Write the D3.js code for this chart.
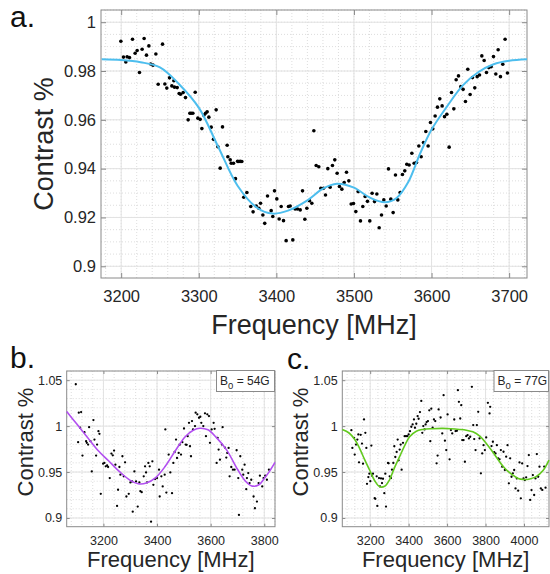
<!DOCTYPE html>
<html>
<head>
<meta charset="utf-8">
<script src="https://cdn.jsdelivr.net/npm/d3@7"></script>
<style>
body { margin: 0; background: #fff; }
svg { display: block; font-family: "Liberation Sans", Arial, Helvetica, sans-serif; }
</style>
</head>
<body>
<div id="chart"></div>
<script>
// ---- panel a : measured points [freq MHz, contrast] ----
var pointsA = [
 [3199.6,0.9922],[3203,0.9857],[3206,0.9837],[3207.7,0.9858],[3210.7,0.9855],[3214.6,0.9930],[3218,0.9873],[3220.6,0.9884],
 [3223.6,0.9794],[3227,0.9889],[3229.6,0.9933],[3232.6,0.9865],[3235.7,0.9903],[3238,0.9829],[3241,0.9824],[3244.7,0.9870],
 [3247.7,0.9746],[3253.3,0.9910],[3256.3,0.9747],[3258.8,0.9730],[3262.3,0.9772],[3265.3,0.9739],[3267.9,0.9760],[3268.7,0.9734],
 [3272.2,0.9732],[3274.7,0.9708],[3276.5,0.9705],[3279.9,0.9712],[3282.9,0.9691],[3286.3,0.9600],[3288.5,0.9627],[3290.2,0.9627],
 [3292.4,0.9627],[3295.4,0.9713],[3298.8,0.9607],[3301.8,0.9602],[3304,0.9564],[3306.5,0.9619],[3308.7,0.9627],[3310.8,0.9633],
 [3313,0.9611],[3316,0.9570],[3319,0.9520],[3322.4,0.9641],[3324.6,0.9490],[3327.6,0.9402],[3330.6,0.9571],[3336.6,0.9496],
 [3337.5,0.9449],[3340.5,0.9436],[3341.8,0.9422],[3344.8,0.9422],[3347.3,0.9359],[3350,0.9430],[3351.6,0.9429],[3353.4,0.9430],
 [3355.5,0.9429],[3358,0.9283],[3362,0.9302],[3367,0.9245],[3370,0.9223],[3374,0.9247],[3377.4,0.9238],[3379.6,0.9258],
 [3382.6,0.9210],[3385,0.9176],[3388.6,0.9288],
 [3393.3,0.9228],[3395.4,0.9204],[3397.6,0.9309],[3400.6,0.9276],[3403.6,0.9194],[3406.2,0.9245],[3409.2,0.9187],[3412.6,0.9105],
 [3415.6,0.9245],[3417.8,0.9247],[3421.2,0.9108],[3424.2,0.9235],[3427.2,0.9235],[3430.7,0.9231],[3433.7,0.9309],[3436.7,0.9193],
 [3439.3,0.9238],[3442.7,0.9269],[3445.7,0.9258],[3448.3,0.9555],[3451.3,0.9413],[3454.7,0.9408],[3457.3,0.9320],[3460.7,0.9320],
 [3463.3,0.9292],[3466.3,0.9400],[3469.3,0.9324],[3472.3,0.9413],[3475.3,0.9436],[3478.3,0.9381],[3481.3,0.9327],[3484.4,0.9316],
 [3487.4,0.9343],[3490.4,0.9385],[3493.4,0.9350],[3496.4,0.9255],[3499.4,0.9257],[3502.4,0.9224],[3505.4,0.9306],[3508.4,0.9186],
 [3511.4,0.9245],[3514.4,0.9286],[3517.4,0.9266],[3520.4,0.9186],[3523.4,0.9299],[3526.5,0.9265],[3529.5,0.9296],[3532.5,0.9158],
 [3535.5,0.9210],[3538.5,0.9272],[3541.5,0.9247],[3544.5,0.9399],[3547.5,0.9275],[3550.5,0.9220],[3553.5,0.9374],[3556.5,0.9272],
 [3559.5,0.9302],[3562.5,0.9376],[3565.5,0.9391],[3568.1,0.9418],[3571.1,0.9415],[3574.6,0.9463],[3577.6,0.9422],[3580.6,0.9425],
 [3583.6,0.9493],[3586.6,0.9449],[3589.6,0.9507],[3592.6,0.9552],[3595.6,0.9493],[3598.6,0.9589],[3601.6,0.9563],[3604.6,0.9616],
 [3607.6,0.9652],[3610.6,0.9686],[3613.6,0.9657],[3616.7,0.9613],[3619.7,0.9623],[3622.7,0.9488],[3625.7,0.9712],[3628.7,0.9645],
 [3631.7,0.9764],[3634.7,0.9780],[3637.7,0.9736],[3640.7,0.9725],[3643.7,0.9675],[3646.7,0.9807],[3649.7,0.9704],[3652.7,0.9773],
 [3655.7,0.9731],[3658.8,0.9777],[3661.8,0.9784],[3664.8,0.9862],[3667.8,0.9843],[3670.8,0.9794],[3673.8,0.9814],[3676.8,0.9818],
 [3679.8,0.9859],[3682.8,0.9788],[3685.8,0.9887],[3688.8,0.9777],[3691.8,0.9828],[3694.8,0.9930],[3697.8,0.9792]
];
// fitted curve
var fitA = [
 [3175,0.9848],[3200,0.9845],[3225,0.9836],[3250,0.9815],[3275,0.9745],[3300,0.9650],[3325,0.9490],[3350,0.9330],
 [3375,0.9240],[3395,0.9216],[3415,0.9228],[3440,0.9270],[3460,0.9318],[3478,0.9338],[3500,0.9322],[3520,0.9282],
 [3540,0.9262],[3555,0.9280],[3570,0.9345],[3585,0.9460],[3600,0.9560],[3620,0.9655],[3640,0.9740],[3660,0.9795],
 [3680,0.9828],[3700,0.9842],[3723,0.9848]
];

// ---- panel b (B0 = 54G) ----
var pointsB = [
 [3096.9,1.0456],[3105.6,0.9825],[3108.1,1.0146],[3116.8,1.0153],[3113.1,0.9982],[3121.8,0.9679],[3129.2,0.9934],[3135.4,0.9836],
 [3137.9,0.9818],[3142.9,0.9799],[3146.6,0.9989],[3151.6,0.9836],[3156.5,0.9507],[3162.7,1.0066],[3166.5,0.9854],[3172.7,0.9679],
 [3176.4,0.9799],[3181.4,0.9945],[3185.1,0.9916],[3190.1,0.9263],[3198.8,0.9591],[3203.7,0.9599],[3208.7,0.9562],[3213.7,0.9573],
 [3217.4,0.9555],[3223.6,0.9434],[3229.8,0.9701],[3234.8,0.9682],[3239.7,0.9734],[3244.7,0.9580],[3250.9,0.9131],[3254.6,0.9307],
 [3259.6,0.9555],[3263.3,0.9471],[3270.8,0.9672],[3275.8,0.9453],[3280.7,0.9606],[3285.7,0.9234],[3294.4,0.9263],[3300.6,0.9387],
 [3306.8,0.9398],[3309.3,0.9069],[3315.5,0.9507],[3321.7,0.9398],[3327.9,0.9124],[3334.1,0.9387],[3337.9,0.9292],[3342.8,0.9281],
 [3350.3,0.9453],[3355.3,0.9562],[3359,0.9496],[3362.7,0.9387],[3367.7,0.9599],[3372.6,0.9562],[3377.6,0.8960],[3382.6,0.9617],
 [3386.3,0.9361],[3392.5,0.9423],[3400,0.9434],[3407.4,0.9526],[3409.9,0.9234],[3416.1,0.9453],[3421.1,0.9343],[3428.5,0.9471],
 [3431,0.9964],[3434.7,0.9277],[3443.4,0.9690],[3449.6,0.9496],[3455.9,0.9270],[3460.8,0.9599],[3465.8,0.9719],[3470.8,0.9854],
 [3474.5,0.9653],[3480.7,0.9708],[3484.4,0.9796],[3489.4,0.9690],[3494.4,0.9825],[3500.6,0.9974],[3506.8,0.9799],[3510.5,0.9796],
 [3514.2,0.9891],[3519.2,1.0036],[3522.9,0.9781],[3526.6,0.9672],[3530.4,1.0055],[3534.1,0.9964],[3541.6,1.0],[3544,1.0146],
 [3550.2,1.0128],[3556.5,1.0091],[3561.4,1.0102],[3565.1,1.0036],[3572.6,1.0],[3578.8,1.0139],[3582.5,0.9891],[3587.5,1.0128],
 [3593.7,1.0109],[3597.4,0.9818],[3603.7,0.9964],[3611.1,1.0036],[3614.8,0.9971],[3622.3,0.9599],[3626,0.9872],[3629.7,0.9745],
 [3634.7,0.9635],[3642.2,0.9799],[3644.6,0.9989],[3653.3,0.9766],[3658.3,0.9657],[3662,0.9708],[3667,0.9763],[3670.7,0.9453],
 [3676.9,0.9555],[3683.1,0.9526],[3689.3,0.9526],[3696.8,0.9737],[3703,0.9434],[3705.5,0.9033],[3710.5,0.9672],[3717.9,0.9526],
 [3721.6,0.9471],[3726.6,0.9580],[3732.8,0.9314],[3735.3,0.9434],[3740.3,0.9489],[3745.2,0.9380],[3751.4,0.9416],[3760.1,0.9234],
 [3765.1,0.9106],[3772.6,0.9179],[3778.8,0.9380],[3783.7,0.9460],[3792.4,0.9343],[3797.4,0.9434],[3803.6,0.9460],[3809.8,0.9416],
 [3817.3,0.9526]
];
var fitB = [
 [3063,1.0158],[3100,1.0025],[3140,0.9880],[3180,0.9735],[3220,0.9620],[3260,0.9505],[3300,0.9410],[3330,0.9372],
 [3360,0.9380],[3395,0.9440],[3430,0.9560],[3470,0.9740],[3505,0.9884],[3535,0.9955],[3560,0.9977],[3590,0.9960],
 [3620,0.9880],[3660,0.9739],[3700,0.9530],[3730,0.9400],[3755,0.9347],[3780,0.9362],[3800,0.9430],[3820,0.9510],[3840,0.9605]
];

// ---- panel c (B0 = 77G) ----
var pointsC = [
 [3102.2,0.9956],[3107.4,0.9763],[3116,0.9872],[3119.5,0.9690],[3126.4,0.9799],[3133.3,0.9854],[3138.5,0.9909],[3142,0.9606],
 [3150.6,0.9905],[3157.5,0.9810],[3162.8,0.9591],[3168,1.0073],[3174.9,0.9927],[3180.1,0.9763],[3183.5,0.9372],[3190.5,0.9445],
 [3195.7,0.9482],[3200.9,0.9401],[3206.1,0.9788],[3209.5,0.9460],[3214.7,0.9482],[3223.4,0.9215],[3226.8,0.9208],[3233.8,0.9453],
 [3237.2,0.9131],[3245.9,0.9434],[3251.1,0.9343],[3256.3,0.9431],[3261.5,0.9380],[3266.7,0.9427],[3273.6,0.9270],[3278.8,0.9482],
 [3282.3,0.9124],[3292.6,0.9599],[3296.1,0.9595],[3301.3,0.9453],[3308.2,0.9434],[3313.4,0.9526],[3320.4,0.9599],[3325.5,0.9781],
 [3330.7,0.9664],[3337.7,0.9719],[3342.9,0.9854],[3348.1,0.9628],[3353.3,0.9745],[3358.5,0.9799],[3363.6,0.9526],[3370.6,0.9818],
 [3379.2,0.9891],[3386.2,0.9891],[3393.1,0.9891],[3400,0.9909],[3406.9,0.9945],[3413.9,0.9993],[3420.8,1.0018],[3427.7,1.0073],
 [3432.9,0.9982],[3439.8,1.0026],[3446.8,1.0109],[3452,1.0080],[3458.9,1.0153],[3465.8,1.0274],[3471,0.9927],[3476.2,1.0],
 [3483.1,0.9964],[3488.3,1.0018],[3493.5,1.0044],[3500.4,1.0055],[3507.4,1.0172],[3512.6,0.9836],[3517.8,1.0190],[3524.7,0.9982],
 [3531.6,1.0073],[3538.5,1.0055],[3545.5,0.9595],[3550.7,0.9679],[3555.9,1.0182],
 [3566.2,1.0094],[3581.8,1.0337],[3574.9,0.9920],[3588.7,0.9841],[3595.6,0.9739],[3602.6,1.0127],[3613,0.9638],[3619.9,0.9957],
 [3626.8,0.9920],[3637.2,1.0072],[3644.1,0.9946],[3651,0.9949],[3656.2,1.0391],[3661.4,1.0264],[3668.4,1.0083],[3673.6,1.0228],
 [3678.8,0.9848],[3685.7,0.9848],[3692.6,0.9612],[3699.5,0.9891],[3706.5,0.9902],[3713.4,0.9866],[3720.3,0.9884],[3729,1.0428],
 [3735.9,1.0011],[3741.1,0.9859],[3748,0.9739],[3754.9,1.0011],[3761.9,1.0156],[3768.8,0.9866],[3775.7,0.9486],[3782.7,0.9703],
 [3789.6,0.9793],[3796.5,0.9739],[3803.4,0.9877],[3812.1,1.0254],[3820.8,1.0138],[3824.2,1.0210],[3831.1,0.9783],[3838.1,0.9830],
 [3845,0.9717],[3851.9,0.9703],[3858.9,0.9793],[3865.8,0.9649],[3872.7,0.9638],[3879.6,0.9739],[3886.6,0.9558],[3893.5,0.9721],
 [3900.4,0.9522],[3907.3,0.9667],[3914.3,0.9793],[3921.2,0.9377],[3928.1,0.9649],[3935,0.9449],[3942,0.9486],[3948.9,0.9522],
 [3955.8,0.9322],[3962.8,0.9431],[3969.7,0.9297],[3976.6,0.9605],[3983.5,0.9214],[3990.5,0.9594],[3997.4,0.9431],[4004.3,0.9413],
 [4011.2,0.9442],[4018.2,0.9565],[4025.1,0.9685],[4032,0.9196],[4039,0.9304],[4045.9,0.9467],[4052.8,0.9250],[4059.7,0.9431],
 [4066.7,0.9696],[4073.6,0.9449],[4080.5,0.9558],[4087.5,0.9322],[4095,0.9305],[4105,0.9560],[4112,0.9330]
];
var fitC = [
 [3055,0.9962],[3090,0.9925],[3120,0.9855],[3145,0.9757],[3170,0.9640],[3197,0.9522],[3225,0.9400],[3250,0.9340],
 [3275,0.9345],[3300,0.9413],[3325,0.9540],[3353,0.9667],[3380,0.9790],[3405,0.9884],[3440,0.9945],[3475,0.9964],
 [3520,0.9972],[3578,0.9975],[3620,0.9972],[3665,0.9964],[3700,0.9955],[3734,0.9938],[3770,0.9890],[3804,0.9812],
 [3840,0.9710],[3873,0.9612],[3905,0.9530],[3942,0.9467],[3970,0.9430],[3994,0.9420],[4030,0.9425],[4063,0.9450],
 [4100,0.9520],[4130,0.9630]
];

// tick labels
var xTicksA = [3200, 3300, 3400, 3500, 3600, 3700];
var yTicksA = [0.9, 0.92, 0.94, 0.96, 0.98, 1];
var xTicksB = [3200, 3400, 3600, 3800];
var xTicksC = [3200, 3400, 3600, 3800, 4000];
var yTicksBC = [0.9, 0.95, 1, 1.05];

var svg = d3.select("#chart")
	.append("svg")
	.attr("width", 550)
	.attr("height", 574);

function steps(a, b, s) {
	var out = [];
	for (var v = Math.ceil(a / s - 1e-9) * s; v <= b + 1e-9; v += s) out.push(+v.toFixed(6));
	return out;
}

function drawPanel(p) {
	var x = d3.scaleLinear().domain(p.xDomain).range([p.left, p.right]);
	var y = d3.scaleLinear().domain(p.yDomain).range([p.bottom, p.top]);
	var g = svg.append("g");

	// minor grid (dotted)
	g.selectAll(".mx").data(steps(p.xDomain[0], p.xDomain[1], p.xMinor)).enter().append("line")
		.attr("x1", d => x(d)).attr("x2", d => x(d)).attr("y1", p.top).attr("y2", p.bottom)
		.attr("stroke", "#d4d4d4").attr("stroke-width", 0.8).attr("stroke-dasharray", "1,2");
	g.selectAll(".my").data(steps(p.yDomain[0], p.yDomain[1], p.yMinor)).enter().append("line")
		.attr("y1", d => y(d)).attr("y2", d => y(d)).attr("x1", p.left).attr("x2", p.right)
		.attr("stroke", "#d4d4d4").attr("stroke-width", 0.8).attr("stroke-dasharray", "1,2");
	// major grid
	g.selectAll(".gx").data(p.xTicks).enter().append("line")
		.attr("x1", d => x(d)).attr("x2", d => x(d)).attr("y1", p.top).attr("y2", p.bottom)
		.attr("stroke", "#e2e2e2").attr("stroke-width", 1);
	g.selectAll(".gy").data(p.yTicks).enter().append("line")
		.attr("y1", d => y(d)).attr("y2", d => y(d)).attr("x1", p.left).attr("x2", p.right)
		.attr("stroke", "#e2e2e2").attr("stroke-width", 1);

	// axes
	var fmt = d => String(+d.toFixed(2));
	var xa = g.append("g").attr("transform", "translate(0," + p.bottom + ")")
		.call(d3.axisBottom(x).tickValues(p.xTicks).tickSize(-p.tickLen).tickPadding(p.xPad).tickFormat(fmt));
	var ya = g.append("g").attr("transform", "translate(" + p.left + ",0)")
		.call(d3.axisLeft(y).tickValues(p.yTicks).tickSize(-p.tickLen).tickPadding(p.yPad).tickFormat(fmt));
	g.append("g").attr("transform", "translate(0," + p.top + ")")
		.call(d3.axisTop(x).tickValues(p.xTicks).tickSize(-p.tickLen).tickFormat(""));
	g.append("g").attr("transform", "translate(" + p.right + ",0)")
		.call(d3.axisRight(y).tickValues(p.yTicks).tickSize(-p.tickLen).tickFormat(""));
	g.selectAll(".domain").remove();
	g.selectAll(".tick line").attr("stroke", "#8a8a8a");
	[xa, ya].forEach(a => a.selectAll("text")
		.attr("fill", "#262626")
		.style("font-size", p.tickFont + "px")
		.style("font-family", "'Liberation Sans', Arial, sans-serif"));

	// box
	g.append("rect")
		.attr("x", p.left).attr("y", p.top)
		.attr("width", p.right - p.left).attr("height", p.bottom - p.top)
		.attr("fill", "none").attr("stroke", "#8a8a8a").attr("stroke-width", 1);

	// points
	g.selectAll(".pt").data(p.points).enter().append("circle")
		.attr("cx", d => x(d[0])).attr("cy", d => y(d[1])).attr("r", p.dotR)
		.attr("fill", "#000");

	// fit
	g.append("path").datum(p.fit)
		.attr("d", d3.line().x(d => x(d[0])).y(d => y(d[1])).curve(d3.curveCatmullRom.alpha(0.5)))
		.attr("fill", "none").attr("stroke", p.color).attr("stroke-width", p.lineW);

	// labels
	svg.append("text").attr("x", (p.left + p.right) / 2).attr("y", p.xLabelY)
		.attr("text-anchor", "middle").attr("fill", "#262626")
		.style("font-size", p.labelFont + "px").text("Frequency [MHz]");
	svg.append("text")
		.attr("transform", "translate(" + p.yLabelX + "," + p.yLabelMid + ") rotate(-90)")
		.attr("text-anchor", "middle").attr("fill", "#262626")
		.style("font-size", p.labelFont + "px").text("Contrast %");
	svg.append("text").attr("x", p.tagX).attr("y", p.tagY).attr("fill", "#111")
		.style("font-size", p.tagFont + "px").text(p.tag);

	if (p.legend) {
		g.append("rect").attr("x", p.legend.x).attr("y", p.top - 0.5)
			.attr("width", p.legend.w).attr("height", 21)
			.attr("fill", "#fff").attr("stroke", "#8a8a8a").attr("stroke-width", 1);
		var t = g.append("text").attr("x", p.legend.x + 3.5).attr("y", p.top + 13.5)
			.attr("fill", "#262626").style("font-size", "12px");
		t.append("tspan").text("B");
		t.append("tspan").attr("dy", 4).style("font-size", "9.5px").text("0");
		t.append("tspan").attr("dy", -4).text(" = " + p.legend.text);
	}
}

drawPanel({
	left: 101, right: 527, top: 10, bottom: 278,
	xDomain: [3174, 3723], yDomain: [0.8952, 1.005],
	xTicks: xTicksA, yTicks: yTicksA, xMinor: 20, yMinor: 0.005,
	tickLen: 5, xPad: 12, yPad: 5, tickFont: 16.5,
	points: pointsA, fit: fitA, dotR: 1.8, color: "#4dbeee", lineW: 2,
	labelFont: 27, xLabelY: 334, yLabelX: 53, yLabelMid: 144,
	tag: "a.", tagX: 10, tagY: 27, tagFont: 30
});

drawPanel({
	left: 66.7, right: 275, top: 371, bottom: 526.7,
	xDomain: [3063, 3840], yDomain: [0.8905, 1.06],
	xTicks: xTicksB, yTicks: yTicksBC, xMinor: 40, yMinor: 0.01,
	tickLen: 3, xPad: 9.5, yPad: 4.4, tickFont: 12.5,
	points: pointsB, fit: fitB, dotR: 1.15, color: "#b24ff0", lineW: 1.6,
	labelFont: 22, xLabelY: 567, yLabelX: 33, yLabelMid: 442,
	tag: "b.", tagX: 10, tagY: 368, tagFont: 30,
	legend: { x: 216.5, w: 58, text: "54G" }
});

drawPanel({
	left: 342.3, right: 549, top: 371, bottom: 526.7,
	xDomain: [3055, 4130], yDomain: [0.8905, 1.06],
	xTicks: xTicksC, yTicks: yTicksBC, xMinor: 40, yMinor: 0.01,
	tickLen: 3, xPad: 9.5, yPad: 4.6, tickFont: 12.5,
	points: pointsC, fit: fitC, dotR: 1.15, color: "#62c91e", lineW: 1.6,
	labelFont: 22, xLabelY: 567, yLabelX: 308, yLabelMid: 442,
	tag: "c.", tagX: 287, tagY: 369, tagFont: 30,
	legend: { x: 494, w: 54.5, text: "77G" }
});
</script>
</body>
</html>
